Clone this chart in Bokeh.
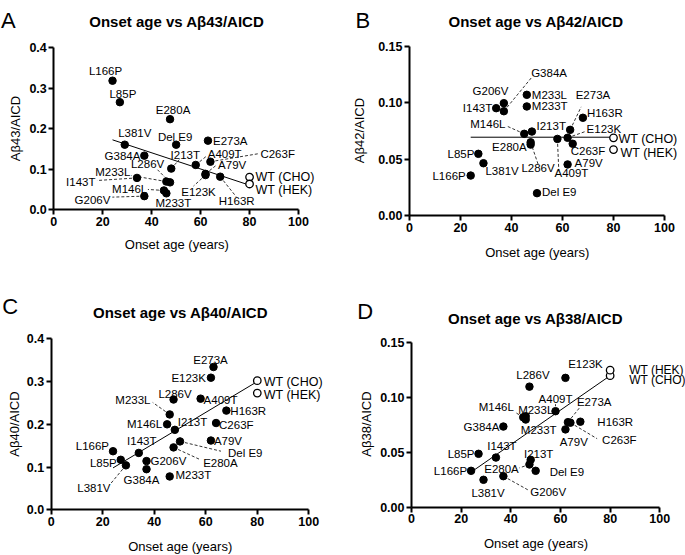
from math import pi
from bokeh.plotting import figure
from bokeh.models import Label, Range1d, FixedTicker, NumeralTickFormatter, ColumnDataSource
from bokeh.layouts import row, column
from bokeh.embed import file_html
from bokeh.resources import INLINE

FONT = "Liberation Sans"

# ---------------- data ----------------
mutations = ["L166P", "L85P", "L381V", "I143T", "G384A", "G206V", "M146L", "M233T", "M233L",
             "E280A", "I213T", "L286V", "Del E9", "A409T", "E123K", "A79V", "E273A", "C263F", "H163R"]
onset_age = [24, 27, 29, 34, 37, 37, 45, 46, 46, 47.5, 48, 47.5, 50, 58, 62, 62, 63, 64, 68]

wt_labels = ["WT (CHO)", "WT (HEK)"]
wt_onset_age = [80, 80]

ab43_aicd = [0.318, 0.265, 0.160, 0.078, 0.133, 0.033, 0.047, 0.040, 0.069,
             0.223, 0.101, 0.067, 0.160, 0.110, 0.085, 0.088, 0.170, 0.118, 0.081]
ab43_aicd_wt = [0.080, 0.063]

ab42_aicd = [0.0356, 0.0548, 0.0465, 0.0952, 0.0925, 0.0996, 0.0725, 0.0967, 0.107,
             0.063, 0.0745, 0.065, 0.020, 0.068, 0.069, 0.0454, 0.076, 0.0637, 0.0867]
ab42_aicd_wt = [0.069, 0.0586]

ab40_aicd = [0.137, 0.117, 0.104, 0.133, 0.095, 0.114, 0.200, 0.078, 0.223,
             0.146, 0.187, 0.258, 0.160, 0.260, 0.309, 0.162, 0.334, 0.203, 0.232]
ab40_aicd_wt = [0.302, 0.273]

ab38_aicd = [0.0332, 0.0487, 0.025, 0.0453, 0.0736, 0.0283, 0.082, 0.080, 0.083,
             0.039, 0.0432, 0.110, 0.0332, 0.0876, 0.118, 0.071, 0.0776, 0.0771, 0.078]
ab38_aicd_wt = [0.120, 0.125]

fit_age = [24, 80]
ab43_fit = [0.172, 0.060]
ab42_fit = [0.0695, 0.0695]
ab40_fit = [0.098, 0.300]
ab38_fit = [0.032, 0.120]

x_ticks = [0, 20, 40, 60, 80, 100]
y_ticks_04 = [0.0, 0.1, 0.2, 0.3, 0.4]
y_ticks_015 = [0.0, 0.05, 0.10, 0.15]

# ---------------- label layout (pixel offsets: dx, dy up, align, leader end) ----------------
layout_A = {
    "L166P": (-7, 10, "center", None), "L85P": (3, 8, "center", None),
    "E280A": (3, 9, "center", None), "L381V": (10, 12, "center", None),
    "Del E9": (-1, 8, "center", None), "E273A": (5, 0, "left", None),
    "G384A": (-4, 0, "right", None), "I213T": (14, 14, "center", (8, 9)),
    "A409T": (12, 11, "left", (11, 9)), "C263F": (50, 8, "left", (48, 8)),
    "A79V": (12.6, 9, "left", (10, 8)), "E123K": (-7, -16.5, "center", (-12, -11)),
    "H163R": (16.5, -24.3, "center", (16, -20)), "M233L": (-36, 9.3, "right", (-35, 6)),
    "I143T": (-41.5, -4.3, "right", (-40, -2.6)), "M146L": (-16.7, 1.7, "right", (-16, 1)),
    "M233T": (7, -10, "center", None), "G206V": (-34, -3.7, "right", (-32, -1)),
    "L286V": (-5.8, 18.6, "right", (-12.5, 12.6)),
    "WT (CHO)": (6, 0, "left", None), "WT (HEK)": (6, -6.5, "left", None),
}
layout_B = {
    "G206V": (-13.4, 12, "center", None), "I143T": (-4, 0, "right", None),
    "G384A": (27.3, 38, "left", (28, 34)), "M233L": (5, 0, "left", None),
    "M233T": (5, 0, "left", None), "E273A": (22.8, 35, "center", (11, 23)),
    "H163R": (4, 4.6, "left", None), "I213T": (4.6, 5.4, "left", None),
    "E123K": (19, 8.3, "left", (17, 6)), "M146L": (-18.8, 10, "right", (-18, 8)),
    "A409T": (14, -34.3, "center", (1.4, -31.6)), "E280A": (-4, -2, "right", None),
    "L286V": (7.4, -25.5, "center", (7.5, -22)), "C263F": (-2, -7.4, "left", None),
    "L85P": (-4, 0, "right", None), "L381V": (2, -8, "left", None),
    "A79V": (7, 1.3, "left", None), "L166P": (-5, 0, "right", None),
    "Del E9": (5, 1, "left", None),
    "WT (CHO)": (5, -1, "left", None), "WT (HEK)": (7, -3.7, "left", None),
}
layout_C = {
    "E273A": (-3, 7.5, "center", None), "E123K": (-5, 0, "right", None),
    "L286V": (1.5, 5.7, "center", None), "A409T": (3, -1.8, "left", None),
    "H163R": (4, 0, "left", None), "M233L": (-19.2, 14, "right", (-17, 12)),
    "M146L": (-5, 0, "right", None), "I213T": (3, 7.5, "left", None),
    "C263F": (3, -1.5, "left", None), "A79V": (3, 0, "left", None),
    "Del E9": (48, -11.8, "left", (41, -9.8)), "E280A": (29.6, -15.8, "left", (27, -12.4)),
    "L166P": (-4, 5.7, "right", None), "I143T": (3, 11.7, "center", None),
    "L85P": (-4, -3.4, "right", None), "G206V": (4, 0, "left", None),
    "L381V": (-15.4, -22.5, "right", (-15, -18)), "G384A": (-5, -10.6, "center", None),
    "M233T": (5.8, 1, "left", None),
    "WT (CHO)": (6.5, -1.5, "left", None), "WT (HEK)": (6.5, -2.4, "left", None),
}
layout_D = {
    "E123K": (20, 14, "center", None), "L286V": (3.5, 11.7, "center", None),
    "A409T": (0, 11.7, "center", (0, 7)), "M233L": (10, 6.4, "center", None),
    "M146L": (-9.4, 10, "right", (-8, 5)), "M233T": (13, -10.3, "center", None),
    "E273A": (9, 20, "left", (12.6, 15.6)), "C263F": (31.7, -17.8, "left", (26.7, -16)),
    "H163R": (17, 0, "left", None), "A79V": (8.3, -12.8, "center", None),
    "G384A": (-4, 0, "right", None), "L85P": (-4, 0, "right", None),
    "I143T": (6, 12, "center", None), "L166P": (-4, 0, "right", None),
    "L381V": (4.5, -13.4, "center", None), "G206V": (27, -16, "left", (24.4, -13.6)),
    "I213T": (8, 6, "center", None), "E280A": (-10.7, -4.4, "right", (-10, -3.4)),
    "Del E9": (14, -0.7, "left", None),
    "WT (CHO)": (19, -4, "left", None), "WT (HEK)": (19, 0, "left", None),
}

panels = [
    dict(letter="A", title="Onset age vs A\u03b243/AICD", ylabel="A\u03b243/AICD",
         values=ab43_aicd, wt=ab43_aicd_wt, fit=ab43_fit, ymax=0.4, yticks=y_ticks_04, yfmt="0.0",
         size=(342, 277), borders=(53.3, 44, 47, 68), layout=layout_A, wt_font="12.5px",
         title_pos=(176.3, 21), ytitle_pos=(14.5, 128), xtitle_pos=(176.3, 244), letter_pos=(0.5, 20)),
    dict(letter="B", title="Onset age vs A\u03b242/AICD", ylabel="A\u03b242/AICD",
         values=ab42_aicd, wt=ab42_aicd_wt, fit=ab42_fit, ymax=0.15, yticks=y_ticks_015, yfmt="0.00",
         size=(343, 277), borders=(67, 21, 45.7, 61.7), layout=layout_B, wt_font="12.5px",
         title_pos=(193.5, 21), ytitle_pos=(17, 130), xtitle_pos=(194.7, 252), letter_pos=(13, 20)),
    dict(letter="C", title="Onset age vs A\u03b240/AICD", ylabel="A\u03b240/AICD",
         values=ab40_aicd, wt=ab40_aicd_wt, fit=ab40_fit, ymax=0.4, yticks=y_ticks_04, yfmt="0.0",
         size=(342, 278), borders=(50.7, 33.7, 61.3, 45.7), layout=layout_C, wt_font="12.5px",
         title_pos=(180, 35), ytitle_pos=(14, 146.5), xtitle_pos=(179.7, 269), letter_pos=(1.7, 29)),
    dict(letter="D", title="Onset age vs A\u03b238/AICD", ylabel="A\u03b238/AICD",
         values=ab38_aicd, wt=ab38_aicd_wt, fit=ab38_fit, ymax=0.15, yticks=y_ticks_015, yfmt="0.00",
         size=(343, 278), borders=(69, 25.7, 65.3, 48.3), layout=layout_D, wt_font="12px",
         title_pos=(193, 40.5), ytitle_pos=(24, 146.5), xtitle_pos=(193.5, 265.5), letter_pos=(14.7, 33.7)),
]


def build_panel(s):
    w, h = s["size"]
    bl, br, bt, bb = s["borders"]
    fw, fh = w - bl - br, h - bt - bb
    ymax = s["ymax"]
    kx = 100.0 / fw
    ky = ymax / fh
    # the plotting frame covers the whole canvas; the axes sit at x=0 / y=0
    p = figure(width=w, height=h, output_backend="svg", toolbar_location=None,
               x_range=Range1d(-bl * kx, 100 + br * kx), y_range=Range1d(-bb * ky, ymax + bt * ky),
               min_border_left=0, min_border_right=0, min_border_top=0, min_border_bottom=0)
    p.outline_line_color = None
    p.grid.visible = False
    p.background_fill_color = "white"
    p.border_fill_color = "white"

    for ax in (p.xaxis[0], p.yaxis[0]):
        ax.axis_line_width = 2
        ax.axis_line_color = "black"
        ax.major_tick_line_width = 2
        ax.major_tick_line_color = "black"
        ax.major_tick_out = 5
        ax.major_tick_in = 0
        ax.minor_tick_line_color = None
        ax.major_label_text_font = FONT
        ax.major_label_text_font_style = "bold"
        ax.major_label_text_font_size = "12.5px"
        ax.major_label_text_color = "black"
        ax.major_label_standoff = 2
    p.xaxis.ticker = FixedTicker(ticks=x_ticks)
    p.yaxis.ticker = FixedTicker(ticks=s["yticks"])
    p.yaxis.formatter = NumeralTickFormatter(format=s["yfmt"])
    p.xaxis.fixed_location = 0
    p.yaxis.fixed_location = 0
    p.xaxis.bounds = (0, 100)
    p.yaxis.bounds = (0, ymax)

    def fig2data(fx, fy):
        return (fx - bl) * kx, (bt + fh - fy) * ky

    names = mutations + wt_labels
    xs = onset_age + wt_onset_age
    ys = s["values"] + s["wt"]

    # leaders
    x0, y0, x1, y1 = [], [], [], []
    for n, xv, yv in zip(names, xs, ys):
        le = s["layout"][n][3]
        if le is not None:
            x0.append(xv); y0.append(yv)
            x1.append(xv + le[0] * kx); y1.append(yv + le[1] * ky)
    p.segment(x0, y0, x1, y1, line_color="black", line_width=0.8, line_dash="3 2")

    # regression line
    p.line(fit_age, s["fit"], line_color="black", line_width=1)

    # points
    src = ColumnDataSource(dict(x=onset_age, y=s["values"], name=mutations))
    p.scatter("x", "y", source=src, size=7.5, fill_color="black", line_color="black")
    p.scatter(wt_onset_age, s["wt"], size=7.5, fill_color="white", line_color="black", line_width=1.3)

    # point labels
    for n, xv, yv in zip(names, xs, ys):
        dx, dy, al, _ = s["layout"][n]
        fs = s["wt_font"] if n in wt_labels else "11.5px"
        p.add_layout(Label(x=xv, y=yv, x_offset=dx, y_offset=dy, text=n, text_align=al,
                           text_baseline="middle", text_font=FONT, text_font_size=fs,
                           text_color="black"))

    # title
    tx, ty = fig2data(*s["title_pos"])
    p.add_layout(Label(x=tx, y=ty, text=s["title"], text_align="center", text_baseline="middle",
                       text_font=FONT, text_font_size="15px", text_font_style="bold", text_color="black"))
    # y axis title
    yx, yy = fig2data(*s["ytitle_pos"])
    p.add_layout(Label(x=yx, y=yy, text=s["ylabel"], angle=pi / 2, text_align="center",
                       text_baseline="middle", text_font=FONT, text_font_size="13px", text_color="black"))
    # x axis title
    xx, xy = fig2data(*s["xtitle_pos"])
    p.add_layout(Label(x=xx, y=xy, text="Onset age (years)", text_align="center", text_baseline="middle",
                       text_font=FONT, text_font_size="13px", text_color="black"))
    # panel letter
    lx, ly = fig2data(*s["letter_pos"])
    p.add_layout(Label(x=lx, y=ly, text=s["letter"], text_align="left", text_baseline="alphabetic",
                       text_font=FONT, text_font_size="22px", text_color="black"))
    return p


figs = [build_panel(s) for s in panels]
page = column(row(figs[0], figs[1]), row(figs[2], figs[3]))

open("out.html", "w").write(file_html(page, INLINE))
